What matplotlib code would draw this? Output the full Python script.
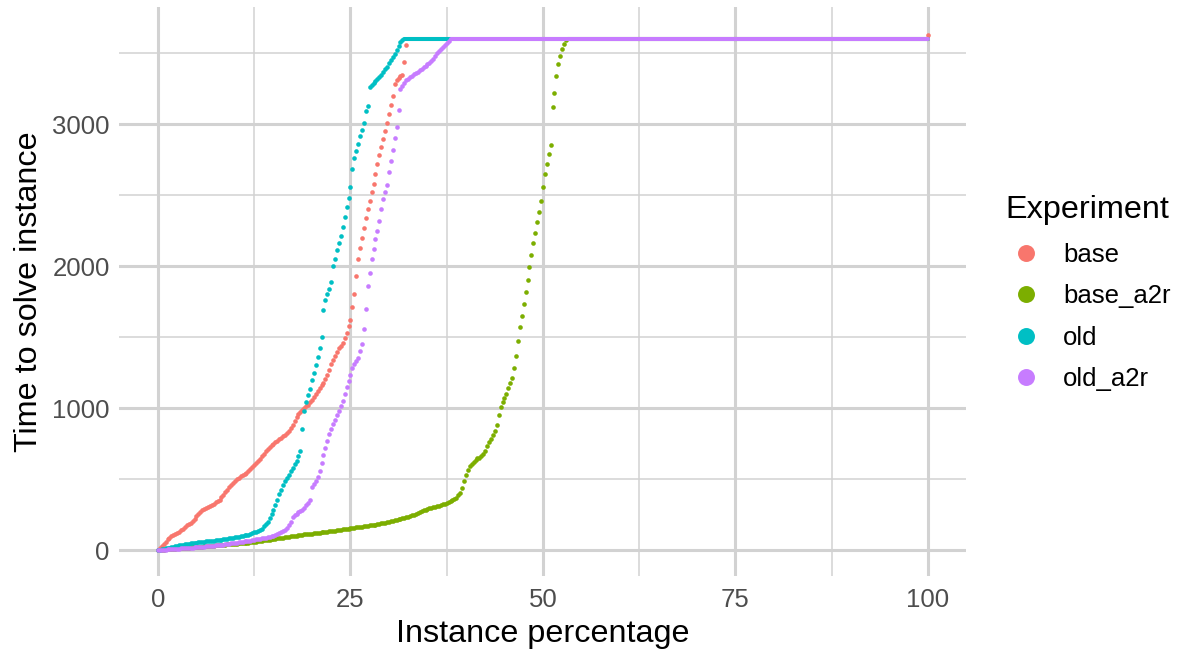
import numpy as np
import matplotlib
matplotlib.use("Agg")
import matplotlib.pyplot as plt
from matplotlib.lines import Line2D

plt.rcParams['font.family'] = ['Liberation Sans', 'DejaVu Sans']

# Experiments and their colours (ggplot default hues)
experiments = ['base', 'base_a2r', 'old', 'old_a2r']
colors = ['#F8766D', '#7CAE00', '#00BFC4', '#C77CFF']

# sorted solve times (s), one value every 0.25 % of instances, before the timeout plateau
base = [0, 12, 28, 45, 60, 75, 88, 100, 108, 115, 122, 130, 140, 150, 163, 175,
        182, 190, 205, 220, 238, 252, 266, 280, 290, 298, 305, 312, 320, 328, 336, 345,
        355, 372, 390, 408, 425, 443, 460, 474, 485, 498, 510, 520, 530, 538, 546, 556,
        570, 585, 600, 612, 625, 642, 660, 678, 695, 710, 725, 738, 750, 760, 770, 780,
        790, 800, 810, 822, 840, 858, 880, 908, 935, 958, 975, 990, 1000, 1012, 1025, 1042,
        1060, 1080, 1100, 1120, 1140, 1160, 1180, 1205, 1230, 1270, 1310, 1340, 1370, 1395,
        1420, 1440, 1460, 1495, 1530, 1575, 1620, 1710, 1800, 1930, 2050, 2130, 2200, 2270,
        2340, 2400, 2460, 2520, 2580, 2650, 2720, 2780, 2840, 2895, 2950, 3010, 3070, 3135,
        3200, 3280, 3310, 3325, 3335, 3342, 3440, 3560]
base_a2r = [0, 1, 2, 4, 5, 6, 8, 9, 10, 11, 12, 13, 14, 15, 16, 17, 18, 19, 20, 21,
            22, 23, 24, 25, 26, 27, 28, 29, 30, 32, 33, 34, 35, 36, 37, 38, 40, 41, 42, 43,
            45, 46, 47, 48, 50, 51, 52, 53, 55, 56, 58, 60, 62, 64, 66, 68, 70, 72, 74, 76,
            78, 80, 82, 84, 86, 88, 90, 92, 94, 96, 98, 100, 102, 104, 106, 108, 110, 111,
            113, 115, 116, 117, 119, 120, 122, 124, 126, 128, 130, 132, 134, 136, 138, 140,
            142, 144, 146, 148, 150, 152, 154, 156, 158, 160, 162, 164, 166, 168, 170, 172,
            174, 176, 178, 180, 183, 185, 188, 190, 193, 196, 200, 203, 207, 210, 214, 217,
            221, 224, 228, 232, 236, 240, 245, 250, 256, 262, 268, 274, 280, 285, 290, 294,
            298, 302, 306, 310, 314, 318, 322, 327, 332, 338, 345, 352, 360, 370, 385, 405,
            440, 490, 530, 565, 590, 605, 620, 632, 645, 652, 660, 680, 700, 730, 760, 785,
            810, 840, 880, 950, 1010, 1040, 1070, 1100, 1140, 1175, 1210, 1280, 1370, 1470,
            1570, 1650, 1730, 1815, 1900, 1990, 2080, 2160, 2230, 2310, 2380, 2460, 2560,
            2650, 2720, 2790, 2850, 3120, 3220, 3340, 3420, 3480, 3530, 3565, 3590]
old = [0, 3, 6, 9, 12, 15, 18, 21, 24, 27, 30, 33, 36, 38, 40, 43, 45, 47, 49, 51,
       53, 55, 56, 58, 59, 61, 62, 64, 65, 67, 68, 69, 70, 73, 75, 78, 80, 83, 85, 88,
       90, 93, 95, 98, 100, 103, 105, 108, 113, 118, 124, 130, 136, 142, 152, 168, 182,
       200, 225, 252, 282, 318, 355, 395, 425, 455, 485, 510, 530, 555, 577, 605, 630,
       665, 700, 850, 980, 1040, 1090, 1135, 1200, 1250, 1300, 1360, 1420, 1500, 1690,
       1760, 1800, 1840, 1890, 2000, 2050, 2110, 2160, 2215, 2275, 2345, 2415, 2480, 2560,
       2680, 2760, 2810, 2860, 2915, 2960, 3010, 3090, 3130, 3260, 3275, 3290, 3300, 3315,
       3330, 3345, 3365, 3385, 3405, 3430, 3450, 3472, 3495, 3520, 3548, 3575, 3592]
old_a2r = [0, 1, 2, 3, 4, 5, 6, 7, 8, 9, 10, 11, 12, 12, 13, 14, 15, 16, 18, 19,
           20, 22, 23, 24, 25, 27, 28, 29, 30, 32, 33, 34, 35, 37, 39, 41, 43, 45, 47, 49,
           51, 53, 55, 57, 59, 61, 63, 65, 67, 70, 72, 75, 77, 80, 82, 85, 87, 90, 92, 96,
           100, 105, 110, 117, 125, 135, 145, 155, 175, 200, 232, 245, 255, 265, 275, 282,
           295, 315, 335, 352, 444, 468, 490, 514, 560, 615, 670, 720, 770, 815, 850, 885,
           915, 948, 980, 1015, 1050, 1100, 1148, 1190, 1230, 1280, 1310, 1335, 1352, 1400,
           1450, 1560, 1700, 1860, 1950, 2050, 2120, 2190, 2250, 2320, 2400, 2470, 2520, 2570,
           2660, 2740, 2817, 2900, 2979, 3100, 3250, 3265, 3290, 3308, 3320, 3330, 3340, 3350,
           3360, 3370, 3380, 3390, 3400, 3410, 3420, 3432, 3445, 3460, 3480, 3498, 3515, 3530,
           3545, 3558, 3570, 3585]
series = [base, base_a2r, old, old_a2r]
step = 0.25  # instance percentage between two listed values

# timed out instances: plateau at the time limit from this percentage up to 100
timeout = 3600
plateau_start = [32.5, 53.25, 32.0, 38.0]
base_last = 3630  # last base instance, slightly above the limit

fig = plt.figure(figsize=(11.78, 6.53), dpi=100)
ax = fig.add_axes([0.1014, 0.118, 0.719, 0.8708])

grid = '#d2d2d2'
for v in [0, 25, 50, 75, 100]:
    ax.axvline(v, color=grid, lw=2.2, zorder=0)
for v in [12.5, 37.5, 62.5, 87.5]:
    ax.axvline(v, color=grid, lw=1.1, zorder=0)
for v in [0, 1000, 2000, 3000]:
    ax.axhline(v, color=grid, lw=2.2, zorder=0)
for v in [500, 1500, 2500, 3500]:
    ax.axhline(v, color=grid, lw=1.1, zorder=0)

for vals, start, c in zip(series, plateau_start, colors):
    x = np.arange(len(vals)) * step
    ax.scatter(x, vals, s=11, color=c, linewidths=0, zorder=2)
    ax.plot([start, 100], [timeout, timeout], color=c, lw=2.9, solid_capstyle='round', zorder=2)
    if c == colors[0]:
        ax.scatter([100], [base_last], s=11, color=c, linewidths=0, zorder=2)

ax.set_xlim(-5, 105)
ax.set_ylim(-182, 3822)
ax.set_xticks([0, 25, 50, 75, 100])
ax.set_yticks([0, 1000, 2000, 3000])
ax.tick_params(length=0, labelsize=18.5, labelcolor='#4d4d4d')
ax.tick_params(axis='x', pad=9)
ax.tick_params(axis='y', pad=7)
for s in ax.spines.values():
    s.set_visible(False)
ax.set_xlabel('Instance percentage', fontsize=23.3, labelpad=5)
ax.set_ylabel('Time to solve instance', fontsize=23.3, labelpad=6)

handles = [Line2D([], [], ls='', marker='o', markersize=12.2, color=c, markeredgewidth=0)
           for c in colors]
leg = ax.legend(handles, experiments, title='Experiment', loc='center left',
                bbox_to_anchor=(1.0455, 0.497), frameon=False, fontsize=18.5,
                title_fontsize=23.3, handlelength=1.6, handletextpad=0.66,
                labelspacing=0.68, borderpad=0, borderaxespad=0)
leg._legend_box.align = 'left'

fig.savefig('out.png', dpi=100)
